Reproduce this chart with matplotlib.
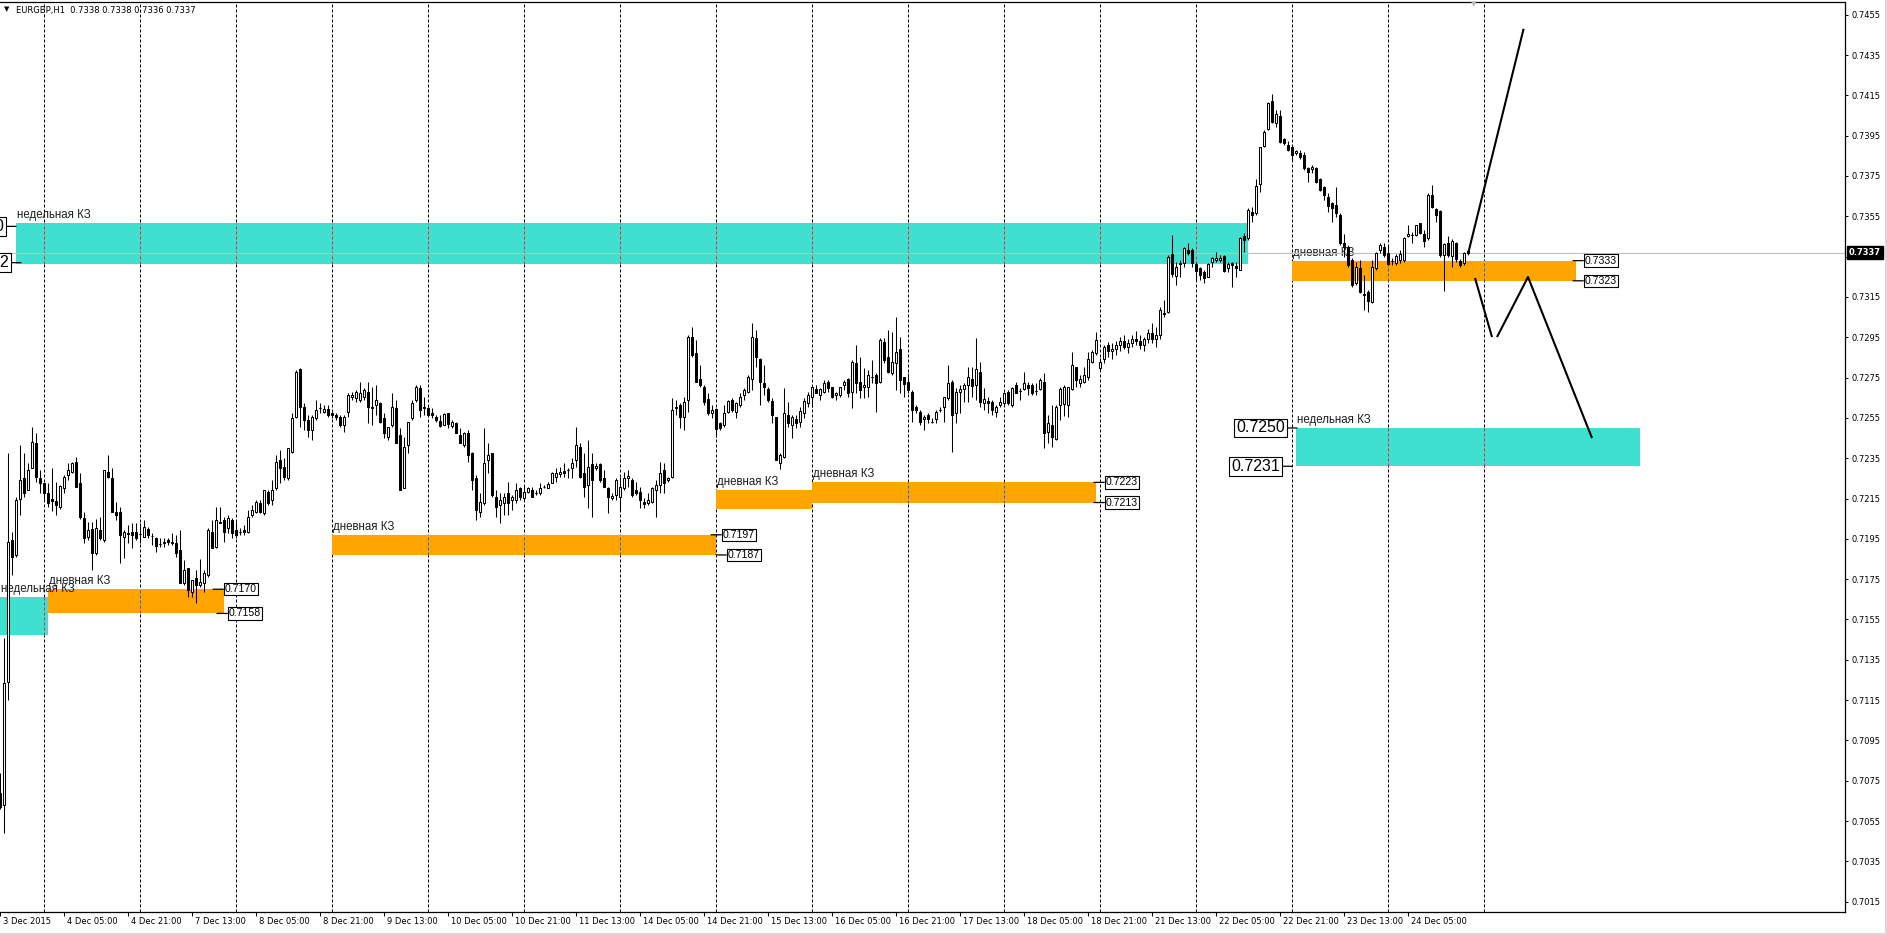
import datetime as dt
import numpy as np
import matplotlib
matplotlib.use("Agg")
import matplotlib.pyplot as plt
from matplotlib.lines import Line2D

# ------------------------------------------------------------------ data
symbol = "EURGBP,H1"
last_ohlc = "0.7338 0.7338 0.7336 0.7337"
bid_price = 0.7337
first_bar_time = dt.datetime(2015, 12, 3, 13)

# hourly candles, prices in pips (x 1e-4)
open_pips = [
    7069, 7063, 7124, 7194.4, 7187, 7215, 7225, 7219.2, 7230, 7242.4,
    7225, 7222.5, 7217.6, 7215, 7214, 7211, 7220, 7226.7, 7228.4, 7233.3,
    7222.5, 7205.2, 7196, 7200, 7188, 7199.4, 7194.4, 7228.4, 7225, 7208.5,
    7208.5, 7196, 7197.8, 7198.6, 7198.6, 7197.5, 7196, 7200, 7196.5, 7195.3,
    7192.4, 7193, 7194.4, 7192.7, 7192.7, 7189.5, 7173, 7180.4, 7168.8, 7175.4,
    7172.1, 7173, 7177.1, 7198.6, 7191.1, 7203, 7204.4, 7200.2, 7204.4, 7199.4,
    7198.6, 7199.4, 7198.6, 7206.8, 7208.5, 7212.6, 7207.7, 7218.4, 7214.3, 7220,
    7234.1, 7230.8, 7225, 7238.3, 7255.6, 7279, 7260.6, 7254, 7249, 7254.8,
    7259.7, 7258, 7259.2, 7257.3, 7256.5, 7255.6, 7251.5, 7258.1, 7265.5, 7264.7,
    7263.9, 7265.5, 7268, 7259.7, 7261.4, 7262.2, 7254.8, 7245.7, 7251.5, 7259.7,
    7246.5, 7220, 7241.5, 7254.8, 7263.9, 7269.7, 7259.7, 7259.7, 7257.3, 7255.6,
    7253.6, 7251.5, 7257.3, 7251, 7252.3, 7246.5, 7241.5, 7247.3, 7237.4, 7225,
    7208.5, 7212.6, 7234.1, 7237.4, 7216, 7211.8, 7212.6, 7217.6, 7214.3, 7214.3,
    7220, 7215.1, 7218.4, 7219.2, 7217.9, 7217.6, 7220.5, 7220, 7222.9, 7225.8,
    7227.1, 7228.8, 7229.2, 7230, 7234.1, 7240.7, 7227.5, 7221.7, 7232, 7230,
    7232, 7225, 7220, 7215.1, 7216.8, 7215.9, 7220, 7225, 7224.2, 7219.2,
    7218.4, 7213.4, 7213, 7213.4, 7219.2, 7221.7, 7229.2, 7224.2, 7225.8, 7259.7,
    7261.4, 7255.6, 7263.9, 7295.3, 7287, 7274.1, 7270.1, 7264.2, 7257.3, 7259.2,
    7252.3, 7251.5, 7258.1, 7263.9, 7258.1, 7261.4, 7266.4, 7268, 7274.1, 7294.5,
    7284, 7272.1, 7269.2, 7263.5, 7255.6, 7232.8, 7235.4, 7256.5, 7251.5, 7254.3,
    7253.1, 7257.3, 7262.2, 7265.5, 7269.2, 7266.4, 7268, 7273, 7270.2, 7266.4,
    7266.4, 7271.3, 7274.1, 7268, 7282, 7273, 7270.5, 7270.5, 7275.4, 7276.3,
    7272.9, 7292.8, 7285, 7277.1, 7282, 7289, 7275.1, 7273, 7268, 7260.6,
    7258.1, 7254.3, 7256.5, 7253.1, 7254.3, 7258.9, 7260.6, 7264.7, 7273, 7257.3,
    7268, 7269.2, 7271.3, 7274.1, 7271.3, 7277.9, 7262.2, 7263.4, 7263, 7258.1,
    7261.2, 7262.2, 7268, 7261.4, 7271.3, 7268.5, 7269.2, 7271.3, 7271.1, 7268.5,
    7269.2, 7273, 7248.2, 7251.5, 7244.4, 7261.4, 7261.9, 7261.4, 7269.2, 7280.1,
    7272.1, 7273, 7275.1, 7282.9, 7287, 7279.6, 7284, 7291.2, 7288.3, 7289,
    7291, 7293, 7290, 7292, 7294, 7293, 7291, 7294, 7297, 7294,
    7296, 7306.9, 7307.7, 7336.3, 7325.4, 7331.3, 7332, 7338.3, 7338.3, 7331.3,
    7329.2, 7327.5, 7325, 7332.5, 7333.3, 7333.3, 7335.3, 7329.2, 7332, 7330.3,
    7328.4, 7345.2, 7344.1, 7357.3, 7356.5, 7371, 7389.9, 7398.1, 7412.4, 7401.1,
    7404.7, 7393.2, 7390.4, 7389.5, 7386.6, 7386.6, 7385.4, 7378.8, 7378.3, 7378.8,
    7373.3, 7369.4, 7364.7, 7361.4, 7360.6, 7355.6, 7341.6, 7339.9, 7333.3, 7322.1,
    7329.2, 7316.5, 7317.6, 7312.7, 7329.2, 7338.3, 7339.9, 7337, 7332.8, 7332,
    7333.3, 7333.3, 7345.2, 7345.7, 7345.7, 7351.5, 7346.2, 7344.1, 7365.6, 7358.5,
    7357.8, 7335.8, 7341.9, 7335.3, 7341.9, 7333, 7332, 7338,
]
high_pips = [
    7079, 7145.7, 7237.4, 7198.6, 7216, 7241.6, 7237.4, 7232.5, 7250.7, 7247.3,
    7229, 7222.5, 7222.5, 7230, 7223.4, 7221.7, 7226.7, 7232.5, 7233.3, 7235.8,
    7227.5, 7208.5, 7203.5, 7203.5, 7205, 7206, 7229.2, 7236.6, 7230, 7213.4,
    7211, 7199.4, 7201.9, 7202.7, 7202.7, 7202.7, 7204.4, 7201, 7197.8, 7196,
    7195.3, 7195.3, 7195.3, 7197.8, 7196.9, 7199.4, 7184.5, 7180.4, 7174.6, 7179.6,
    7184.8, 7179.6, 7200.2, 7204.4, 7211, 7211, 7206, 7206.8, 7205.2, 7203.5,
    7200.2, 7201.9, 7209.3, 7211.8, 7214.3, 7214.3, 7219.2, 7219.2, 7224.2, 7236.6,
    7239.1, 7235, 7239.9, 7257.3, 7278.8, 7279.6, 7262.2, 7256.5, 7256.5, 7263.9,
    7262.2, 7261.4, 7261.4, 7258.1, 7257.3, 7256.5, 7256.5, 7267.2, 7268, 7268.8,
    7273, 7269.7, 7273, 7270.5, 7271.3, 7263, 7257.3, 7250.6, 7267.2, 7263.9,
    7249.8, 7245.7, 7253.1, 7263.9, 7271.3, 7271.3, 7265.5, 7260.6, 7259.7, 7256.5,
    7256.5, 7257.3, 7257.3, 7254, 7253.1, 7249.8, 7248.2, 7249, 7238.2, 7226.7,
    7217.6, 7249.8, 7242.4, 7237.4, 7219.2, 7217.6, 7217.6, 7223.4, 7216.8, 7222.5,
    7220.9, 7221.7, 7220.9, 7220.9, 7219.2, 7222.5, 7221.7, 7223.4, 7228.3, 7230,
    7230.8, 7232.5, 7230, 7235, 7250.6, 7242.4, 7237.4, 7244, 7237.4, 7232.5,
    7232.5, 7229.2, 7220.9, 7217.6, 7225, 7225.8, 7228.3, 7229.2, 7225, 7223.4,
    7220.9, 7215.1, 7217.6, 7220.9, 7224.2, 7233.3, 7232.5, 7225.8, 7264.7, 7263.9,
    7262.2, 7265.5, 7296.1, 7300.2, 7293.6, 7281.2, 7271.3, 7267.2, 7261.4, 7259.7,
    7253.1, 7261.4, 7263.9, 7264.7, 7263, 7267.2, 7269.7, 7276.3, 7301.9, 7298.6,
    7284.5, 7281.2, 7270.5, 7264.7, 7255.6, 7237.4, 7269.7, 7263, 7256.5, 7256.5,
    7260.6, 7264.7, 7268, 7271.3, 7271.3, 7269.7, 7273.8, 7273.8, 7270.5, 7268,
    7270.5, 7273.8, 7274.6, 7283.7, 7291.2, 7285.4, 7279.6, 7278.8, 7283.7, 7277.1,
    7294.5, 7294.5, 7298.6, 7297.8, 7305.2, 7295.3, 7275.4, 7277.1, 7268.8, 7261.4,
    7258.9, 7256.5, 7257.3, 7254.8, 7258.9, 7260.6, 7265.5, 7281.2, 7273.8, 7269.7,
    7271.3, 7272.1, 7280.4, 7280.4, 7294.5, 7282.9, 7269.7, 7265.5, 7263.9, 7261.4,
    7265.5, 7268, 7268.8, 7270.5, 7273, 7269.7, 7277.9, 7273, 7272.5, 7272.1,
    7274.6, 7277.1, 7256.5, 7261.4, 7261.4, 7270.5, 7271.3, 7270.5, 7287.8, 7280.4,
    7276.3, 7280.4, 7287.8, 7288.7, 7297.8, 7284.5, 7291.2, 7292.8, 7292, 7293,
    7295, 7296, 7294, 7296, 7298, 7296, 7295, 7299, 7302, 7300,
    7310, 7313.5, 7335.8, 7345.7, 7332.5, 7333.3, 7339.9, 7341.9, 7339.1, 7332.5,
    7330, 7328.3, 7331.7, 7335, 7337.4, 7335.8, 7335.8, 7332.5, 7332.5, 7332.5,
    7344.9, 7346.5, 7358.9, 7359.8, 7373.3, 7389.5, 7397.8, 7411.9, 7415.7, 7407.7,
    7407.7, 7393.7, 7392.3, 7389.9, 7387.9, 7387.9, 7387.1, 7379.3, 7380.4, 7379.6,
    7373.8, 7370, 7366.4, 7362.3, 7369.4, 7356.8, 7346.2, 7340.7, 7334.1, 7332.5,
    7333.3, 7325.9, 7318.4, 7333.3, 7337.5, 7341.6, 7341.6, 7340.8, 7334.1, 7336.3,
    7338.3, 7344.9, 7350.7, 7347.4, 7350.7, 7351.8, 7348.2, 7366.4, 7370.5, 7358.9,
    7358.1, 7341.6, 7345.2, 7343.6, 7342.4, 7333.6, 7337.5, 7338,
]
low_pips = [
    7061, 7048.9, 7115, 7177.1, 7186, 7206.8, 7216, 7219, 7230, 7223.4,
    7217.6, 7215, 7211, 7209, 7207, 7210, 7217.6, 7224.2, 7227.5, 7220.9,
    7205, 7192.8, 7194.5, 7179.6, 7187, 7194.4, 7193.6, 7225, 7208.5, 7204.4,
    7182.8, 7185.3, 7193, 7190.3, 7194.4, 7193, 7196, 7195.3, 7192, 7188.6,
    7191, 7191, 7192, 7192, 7186.2, 7173, 7172.2, 7166.3, 7166.3, 7163,
    7171.3, 7168.8, 7176.3, 7190.3, 7190.3, 7202.7, 7193.6, 7197.8, 7195.3, 7195.3,
    7196.9, 7196.9, 7197.8, 7206, 7207.7, 7207.7, 7206.8, 7211.8, 7211.8, 7219.2,
    7222.5, 7224.2, 7224.2, 7237.4, 7254.8, 7250.7, 7249, 7245.7, 7244, 7254,
    7257.3, 7257.3, 7255.6, 7254.8, 7254, 7250.7, 7248.2, 7255.6, 7264, 7263,
    7263, 7263.9, 7252.3, 7251.5, 7256.5, 7252.3, 7244.9, 7244, 7250.6, 7242.4,
    7219.2, 7220, 7237.4, 7254, 7263, 7255.6, 7256.5, 7255.6, 7254.8, 7253.1,
    7250.6, 7251.5, 7249.8, 7249.8, 7247.3, 7242.4, 7240.7, 7233.3, 7219.2, 7204.4,
    7206, 7211.8, 7227.5, 7216, 7206, 7202.7, 7206.8, 7206.8, 7209.3, 7212.6,
    7214.3, 7214.3, 7217.6, 7216, 7216.8, 7216.8, 7220, 7220, 7222.5, 7223.4,
    7225.8, 7225.8, 7225, 7225, 7230.8, 7225, 7216, 7210.1, 7206, 7229.2,
    7223.4, 7220.9, 7207.7, 7214.3, 7214.3, 7209.3, 7219.2, 7220.9, 7216, 7216.8,
    7210.1, 7210.1, 7211.8, 7212.6, 7206, 7217.6, 7217.6, 7223.4, 7225, 7256.5,
    7249.8, 7249, 7258.1, 7285.4, 7273, 7270.5, 7261.4, 7256.5, 7254.8, 7245.7,
    7249, 7250.6, 7257.3, 7258.1, 7254.8, 7260.6, 7263.9, 7267.2, 7268.8, 7280.4,
    7261.4, 7266.4, 7263, 7252.3, 7234.1, 7229.5, 7234.9, 7250.6, 7244.9, 7249.8,
    7250.6, 7254.8, 7260.6, 7260.6, 7267.2, 7263.9, 7267.2, 7268, 7264.7, 7263.9,
    7265.5, 7268.8, 7265.5, 7259.7, 7267.2, 7264.7, 7264.7, 7265.5, 7272.1, 7258.1,
    7272.1, 7282, 7277.1, 7276.3, 7268.8, 7267.2, 7265.5, 7267.2, 7253.1, 7257.3,
    7251.5, 7249, 7252.3, 7252.3, 7252.3, 7258.1, 7253.1, 7263.9, 7238.3, 7252.3,
    7257.3, 7263, 7263, 7265.5, 7263.9, 7260.6, 7258.9, 7257.3, 7256.5, 7255.6,
    7260.6, 7261.4, 7261.4, 7260.6, 7267.2, 7263.9, 7268.8, 7266.4, 7266.4, 7266.4,
    7268.8, 7239.9, 7242.4, 7240.7, 7244, 7253.9, 7255.9, 7255.6, 7268.8, 7270.5,
    7270.5, 7272.1, 7273.8, 7282, 7286.2, 7278.8, 7282, 7285.4, 7284, 7286,
    7288, 7289, 7287, 7290, 7291, 7289, 7288, 7292, 7292, 7290,
    7294, 7305.2, 7306.9, 7325, 7320.9, 7325, 7330, 7335.8, 7330, 7323.4,
    7323.4, 7321.7, 7325, 7330, 7332.5, 7332.5, 7327.5, 7327.5, 7320.1, 7325,
    7328.4, 7337.5, 7343.2, 7352.3, 7355.6, 7367.2, 7389.5, 7397.8, 7401.1, 7399.5,
    7391.2, 7390.4, 7387.5, 7382.9, 7385.4, 7383.2, 7378, 7372.2, 7376.3, 7371.4,
    7367.7, 7363.1, 7357.3, 7352.3, 7354.8, 7340.8, 7335, 7330, 7320.1, 7320.9,
    7316.8, 7308.5, 7307.7, 7311.9, 7328.4, 7336.6, 7335, 7330.8, 7330.8, 7330.8,
    7331.7, 7332.5, 7344.6, 7341.9, 7345.2, 7346.2, 7339.9, 7343.2, 7359, 7352.3,
    7335, 7318.1, 7335, 7330, 7332.5, 7330, 7330.8, 7336,
]
close_pips = [
    7062, 7123.3, 7193.6, 7186.2, 7214.3, 7224.2, 7217.6, 7229.2, 7243.2, 7225.8,
    7222.5, 7217.6, 7212.6, 7214, 7211.8, 7221, 7225.8, 7229.2, 7232.5, 7220.9,
    7206, 7195.3, 7199.4, 7187.8, 7200.2, 7195.3, 7229.2, 7225.8, 7208.5, 7206.8,
    7196.9, 7198.6, 7197.4, 7197, 7195.3, 7197.5, 7201, 7197, 7196.3, 7191.2,
    7192.4, 7193.2, 7193.6, 7193.6, 7187.8, 7173, 7179.6, 7169.6, 7174.6, 7172.1,
    7173.8, 7178, 7199.4, 7190.3, 7204.4, 7203.3, 7198.6, 7205.2, 7197.8, 7196.9,
    7198.6, 7198.6, 7206, 7209.3, 7213.4, 7208.5, 7219.2, 7212.6, 7219.2, 7233.3,
    7230, 7225.8, 7239.9, 7254.8, 7277.9, 7260.6, 7254, 7249, 7255.6, 7258.9,
    7259.7, 7259.2, 7256.5, 7256.5, 7255.6, 7251.5, 7255.6, 7266.4, 7266.4, 7268,
    7267.2, 7268.8, 7260.6, 7260.6, 7263.9, 7253.1, 7247.3, 7250.6, 7260.2, 7242.4,
    7219.2, 7240.7, 7253.1, 7262.2, 7270.5, 7258.9, 7260.6, 7256.5, 7256.5, 7254,
    7251, 7257, 7252, 7253, 7247.3, 7242.4, 7247.3, 7236.6, 7224.2, 7209.3,
    7213.4, 7232.5, 7236.6, 7216.8, 7211, 7214.3, 7216, 7212.6, 7216, 7219.2,
    7216, 7218.4, 7220, 7216, 7217.9, 7220, 7220.9, 7222.2, 7227.5, 7227.8,
    7228.3, 7227.5, 7229.2, 7232.8, 7241.5, 7225.8, 7220.9, 7230.8, 7224.2, 7231.3,
    7224.2, 7220.9, 7216, 7216.3, 7224.2, 7220.9, 7225, 7226.2, 7216.8, 7217.6,
    7214.3, 7212.3, 7214.3, 7220, 7221.7, 7227.8, 7222.5, 7225, 7258.9, 7260.6,
    7255.6, 7263, 7295.3, 7286.2, 7273, 7271.3, 7263, 7257.3, 7258.9, 7249.3,
    7249.8, 7257.3, 7263.5, 7258.9, 7262.2, 7265.5, 7268.8, 7275.4, 7295.3, 7285.4,
    7273, 7270.2, 7263.9, 7256.5, 7234.1, 7236.6, 7257.3, 7252.3, 7255.6, 7252.3,
    7258.6, 7263.4, 7266.4, 7270.2, 7267.2, 7269.2, 7272.1, 7269.7, 7265.2, 7267.2,
    7270.2, 7273, 7267.2, 7282.9, 7272.1, 7268.8, 7271.3, 7276.3, 7275.4, 7272.1,
    7293.6, 7283.7, 7277.9, 7282.9, 7287.8, 7273.8, 7271.8, 7268.8, 7258.9, 7258.9,
    7253.1, 7255.6, 7254.3, 7253.1, 7258.1, 7258.9, 7265.2, 7272.1, 7256.5, 7268,
    7269.2, 7271.3, 7275.1, 7270.8, 7279.1, 7263, 7264.2, 7262.2, 7258.9, 7260.6,
    7263, 7267.2, 7262.2, 7269.7, 7267.2, 7268.5, 7272.1, 7269.7, 7267.2, 7268.5,
    7273.8, 7247.3, 7252.3, 7245.7, 7260.2, 7269.2, 7270.5, 7270.2, 7281.2, 7273.8,
    7274.1, 7276.3, 7284, 7287.8, 7293.6, 7282.9, 7290, 7288.3, 7289, 7291,
    7293, 7290, 7292, 7294, 7293, 7291, 7294, 7297, 7294, 7296,
    7308.5, 7306.3, 7335, 7326.2, 7330, 7332, 7339.1, 7336.6, 7332, 7328,
    7325.9, 7324.2, 7331.3, 7334.1, 7334.1, 7334.1, 7328, 7331.3, 7330.8, 7329.2,
    7344.1, 7343.2, 7358.1, 7355.6, 7370, 7389.2, 7397, 7411.4, 7401.9, 7405.7,
    7392, 7391.2, 7387.9, 7385.4, 7387.5, 7384.2, 7378.8, 7377.1, 7379.3, 7372.2,
    7368, 7365.6, 7360.1, 7359, 7356.5, 7341.6, 7339.9, 7330.8, 7320.9, 7330,
    7317.6, 7316, 7313.2, 7330, 7337, 7340.8, 7335.8, 7331.3, 7332.8, 7335.3,
    7336.3, 7344.1, 7346.2, 7345.7, 7350.5, 7346.9, 7342.9, 7365.6, 7359.5, 7355.6,
    7335.8, 7341.1, 7335.8, 7342.9, 7333.6, 7330.8, 7337, 7337,
]

# zones (rectangles): start bar, end bar, top price, bottom price, kind
zone_kind = ["weekly", "weekly", "daily", "daily", "daily", "daily", "daily", "weekly"]
zone_start = [4, -10, 12, 83, 179, 203, 323, 324]
zone_end = [312, 12, 56, 179, 203, 274, 394, 410]
zone_top = [0.73517, 0.71661, 0.7170, 0.7197, 0.7219, 0.7223, 0.7333, 0.7250]
zone_bottom = [0.73315, 0.71473, 0.7158, 0.7187, 0.7210, 0.7213, 0.7323, 0.7231]
zone_names = {"weekly": "недельная КЗ", "daily": "дневная КЗ"}

# price label objects: anchor bar, price, side ('L' box left of anchor / 'R' right), large font
plabel_bar = [4, 5.25, 53.25, 54.25, 177.75, 179, 273.5, 273.5, 393.25, 393.25, 324.25, 323]
plabel_price = [0.7350, 0.7332, 0.7170, 0.7158, 0.7197, 0.7187, 0.7223, 0.7213, 0.7333, 0.7323, 0.7250, 0.7231]
plabel_side = ["L", "L", "R", "R", "R", "R", "R", "R", "R", "R", "L", "L"]
plabel_big = [True, True, False, False, False, False, False, False, False, False, True, True]

# hand-drawn forecast polylines (bar, price)
fc_up_bar = [367.1, 380.9]
fc_up_price = [0.73371, 0.74480]
fc_dn1_bar = [368.75, 373]
fc_dn1_price = [0.73244, 0.72951]
fc_dn2_bar = [374.25, 382, 398]
fc_dn2_price = [0.72951, 0.73249, 0.72450]

price_ticks = np.round(np.arange(0.7015, 0.74551, 0.002), 4)

# ------------------------------------------------------------------ derived
O = np.array(open_pips) / 1e4
Hh = np.array(high_pips) / 1e4
Lw = np.array(low_pips) / 1e4
C = np.array(close_pips) / 1e4
n = min(len(O), len(Hh), len(Lw), len(C))
O, Hh, Lw, C = O[:n], Hh[:n], Lw[:n], C[:n]
xb = np.arange(n)

# bar times (skip weekends)
times = []
t = first_bar_time
while len(times) < 520:
    if t.weekday() < 5:
        times.append(t)
    t += dt.timedelta(hours=1)

day_starts = [i for i, tt in enumerate(times) if tt.hour == 0]
grid_bars = [i for i in day_starts if i <= n - 1]
grid_bars.append(min(i for i in day_starts if i > n - 1))

label_bars = list(range(0, n, 16))
label_texts = []
for i in label_bars:
    tt = times[i]
    if i == 0:
        label_texts.append(f"{tt.day} {tt:%b} {tt.year}")
    else:
        label_texts.append(f"{tt.day} {tt:%b} {tt:%H:%M}")

# ------------------------------------------------------------------ figure
W, H, DPI = 1887, 935, 100
fig = plt.figure(figsize=(W / DPI, H / DPI), dpi=DPI)
fig.patch.set_facecolor("white")
ax_l, ax_r, ax_t, ax_b = 0, 1845, 2, 912
ax = fig.add_axes([ax_l / W, 1 - ax_b / H, (ax_r - ax_l) / W, (ax_b - ax_t) / H])
ax.set_facecolor("white")

px_per_bar = 4.0
price_per_px = 1 / 20159.0
ref_y, ref_p = 14.7, 0.7455
ax.set_xlim(0, (ax_r - ax_l) / px_per_bar)
ax.set_ylim(ref_p - (ax_b - ref_y) * price_per_px, ref_p + (ref_y - ax_t) * price_per_px)

ax.spines["left"].set_visible(False)
for s in ["top", "right", "bottom"]:
    ax.spines[s].set_color("black")
    ax.spines[s].set_linewidth(0.9)

# grid (dashed vertical day separators)
ax.vlines(grid_bars, 0, 1, transform=ax.get_xaxis_transform(), colors="black",
          linestyles=(0, (3, 2)), linewidth=0.72, zorder=0.5)

# zones
zone_color = {"weekly": "#40E0D0", "daily": "#FFA500"}
xor_color = {"weekly": "#ff1f2f", "daily": "#1f5fff"}
for k, s0, s1, top, bot in zip(zone_kind, zone_start, zone_end, zone_top, zone_bottom):
    ax.add_patch(plt.Rectangle((s0, bot), s1 - s0, top - bot, facecolor=zone_color[k],
                               edgecolor="none", zorder=1))
    for g in grid_bars:
        if s0 < g < s1:
            ax.vlines(g, bot, top, colors=xor_color[k], linestyles=(0, (3, 2)),
                      linewidth=0.72, zorder=1.5)
    ax.annotate(zone_names[k], xy=(max(s0, 0), top), xytext=(1, 5), textcoords="offset pixels",
                ha="left", va="baseline", fontsize=8.3, color="#1e1e1e",
                family=["Liberation Sans", "DejaVu Sans"], zorder=2)

# bid line
ax.axhline(bid_price, color="#c0c0c0", lw=0.8, zorder=2.5)

# candles
ax.vlines(xb, Lw, Hh, colors="black", linewidth=0.75, zorder=3)
bull = C >= O
bw = 0.64
ax.bar(xb[bull], (C - O)[bull], bottom=O[bull], width=bw, color="white",
       edgecolor="black", linewidth=0.75, zorder=4)
ax.bar(xb[~bull], (O - C)[~bull], bottom=C[~bull], width=bw, color="black",
       edgecolor="black", linewidth=0.75, zorder=4)
doji = np.isclose(C, O)
ax.hlines(C[doji], xb[doji] - bw / 2, xb[doji] + bw / 2, colors="black", linewidth=0.8, zorder=4.5)

# forecast lines
for bx, py in [(fc_up_bar, fc_up_price), (fc_dn1_bar, fc_dn1_price), (fc_dn2_bar, fc_dn2_price)]:
    ax.plot(bx, py, color="black", lw=1.5, zorder=6, solid_capstyle="butt")

# price label objects
for b, p, side, big in zip(plabel_bar, plabel_price, plabel_side, plabel_big):
    fs = 11.5 if big else 7.6
    off = -12 if side == "L" else 12
    ax.annotate(f"{p:.4f}", xy=(b, p), xytext=(off, 0), textcoords="offset pixels",
                ha="right" if side == "L" else "left", va="center", fontsize=fs,
                family=["Liberation Sans", "DejaVu Sans"], color="black",
                bbox=dict(boxstyle="square,pad=0.12", fc="white", ec="black", lw=0.8),
                arrowprops=dict(arrowstyle="-", lw=0.9, color="black", shrinkA=0, shrinkB=0),
                zorder=7, annotation_clip=False)

# axes ticks
ax.yaxis.tick_right()
ax.set_yticks(price_ticks)
ax.set_yticklabels([f"{v:.4f}" for v in price_ticks])
ax.tick_params(axis="y", direction="out", length=2.5, width=0.7, pad=2.5, labelsize=6,
               colors="black")
ax.set_xticks(label_bars)
ax.set_xticklabels([])
ax.tick_params(axis="x", direction="out", length=3, width=0.7, colors="black")
for b, txt in zip(label_bars, label_texts):
    ax.annotate(txt, xy=(b, 0), xycoords=("data", "axes fraction"), xytext=(3, -9.5),
                textcoords="offset pixels", ha="left", va="center", fontsize=6,
                color="black", annotation_clip=False)

# current price tag
ax.annotate(f"{bid_price:.4f}", xy=(1, bid_price), xycoords=("axes fraction", "data"),
            xytext=(4, 0), textcoords="offset pixels", ha="left", va="center",
            fontsize=6, fontweight="bold", color="white",
            bbox=dict(boxstyle="square,pad=0.25", fc="black", ec="black"),
            annotation_clip=False, zorder=8)

# title
fig.text(4 / W, 1 - 9.5 / H, "▼", fontsize=5, va="center", ha="left", color="black")
fig.text(16 / W, 1 - 10 / H, f"{symbol}  {last_ohlc}", fontsize=6, va="center",
         ha="left", color="black")
# chart shift marker
fig.text(1474 / W, 1 - 4 / H, "▼", fontsize=5, va="center", ha="center", color="#b8b8b8")

# outer frame
fig.add_artist(Line2D([1885.5 / W, 1885.5 / W], [0, 1], color="#d8d8d8", lw=1.5))
fig.add_artist(Line2D([0, 1], [1.5 / H, 1.5 / H], color="#d8d8d8", lw=1.5))

fig.savefig("out.png", dpi=DPI, facecolor="white")
